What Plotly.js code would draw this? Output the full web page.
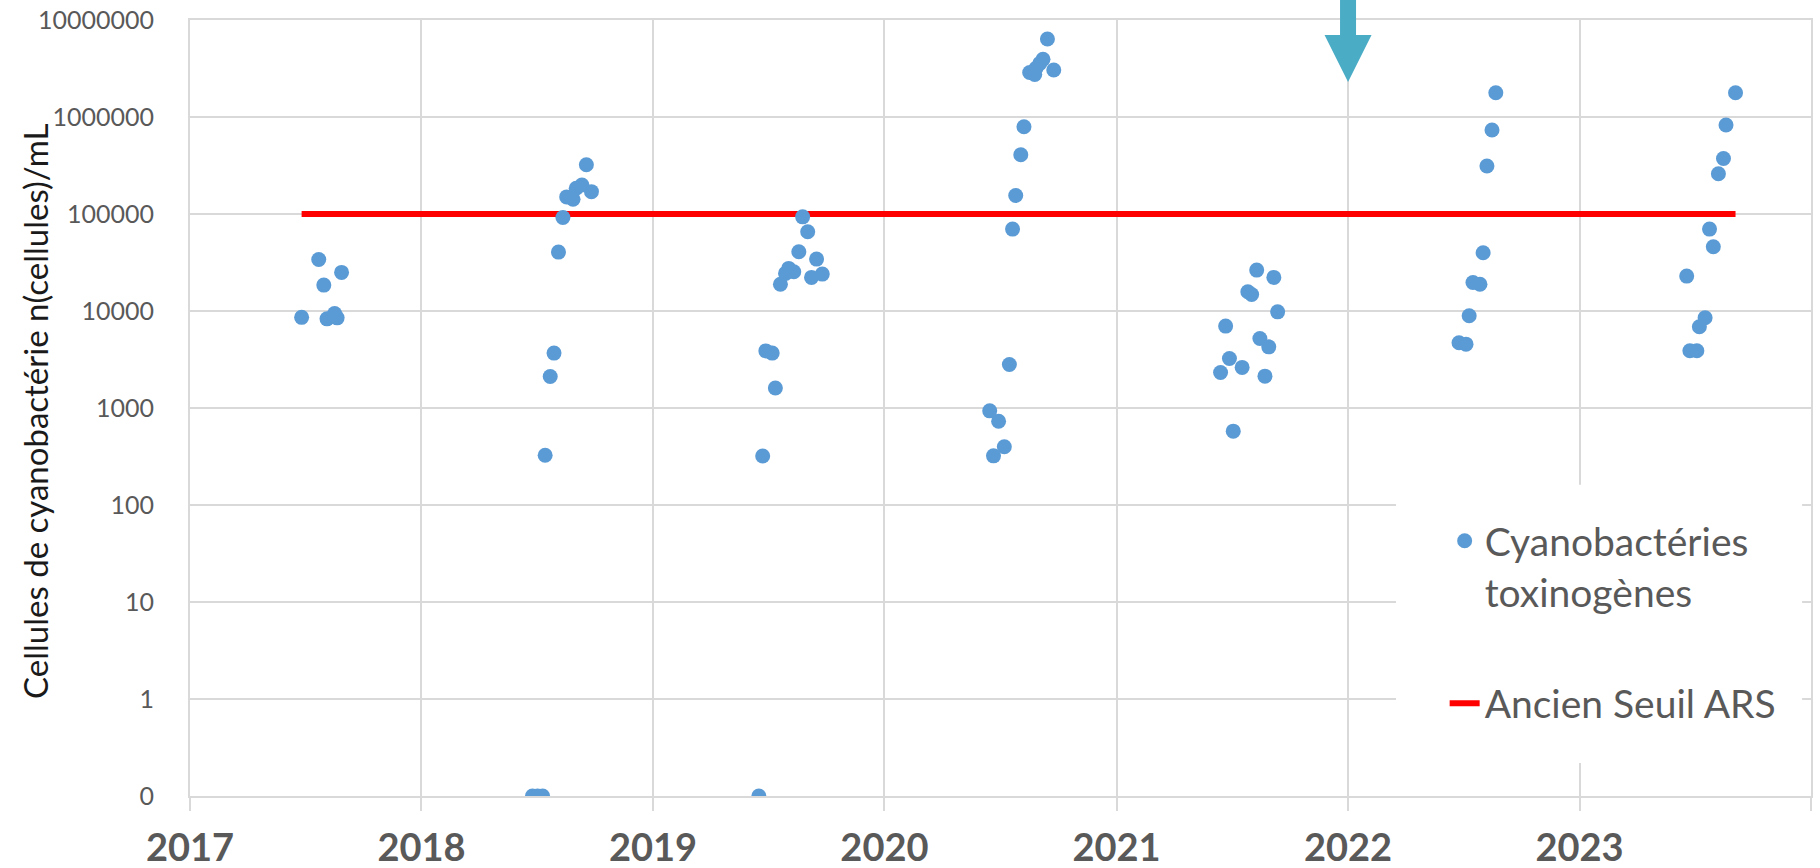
<!DOCTYPE html>
<html>
<head>
<meta charset="utf-8">
<script src="https://cdn.plot.ly/plotly-3.0.1.min.js"></script>
<style>
  html, body { margin: 0; padding: 0; background: #ffffff; }
  #chart { width: 1820px; height: 868px; }
</style>
</head>
<body>
<div id="chart"></div>
<script>
// Sampling dates (Cyanobactéries toxinogènes)
const sampleDates = [
  '2017-06-26','2017-07-23','2017-07-31','2017-08-05','2017-08-17','2017-08-21','2017-08-28',
  '2018-06-25','2018-07-03','2018-07-11','2018-07-15','2018-07-23','2018-07-29','2018-08-05','2018-08-12','2018-08-18','2018-08-28','2018-09-02','2018-09-11','2018-09-18','2018-09-26',
  '2019-06-17','2019-06-23','2019-06-28','2019-07-08','2019-07-13','2019-07-21','2019-07-29','2019-08-03','2019-08-11','2019-08-19','2019-08-25','2019-09-02','2019-09-08','2019-09-16','2019-09-25',
  '2020-06-15','2020-06-21','2020-06-29','2020-07-08','2020-07-16','2020-07-21','2020-07-26','2020-08-03','2020-08-08','2020-08-17','2020-08-25','2020-08-27','2020-09-02','2020-09-07','2020-09-14','2020-09-24',
  '2021-06-14','2021-06-22','2021-06-28','2021-07-04','2021-07-18','2021-07-27','2021-08-02','2021-08-10','2021-08-15','2021-08-23','2021-08-29','2021-09-06','2021-09-12',
  '2022-06-25','2022-07-06','2022-07-11','2022-07-17','2022-07-28','2022-08-02','2022-08-08','2022-08-16','2022-08-22',
  '2023-06-19','2023-06-24','2023-07-05','2023-07-09','2023-07-18','2023-07-25','2023-07-31','2023-08-08','2023-08-16','2023-08-20','2023-09-04'
];
// Cell counts, cellules/mL
const cellCounts = [
  8600, 34000, 18500, 8300, 9400, 8500, 25000,
  0, 0, 0, 326, 2110, 3680, 40500, 92000, 150000, 142000, 184000, 199000, 322000, 170000,
  0, 320, 3880, 3680, 1610, 18900, 24400, 27500, 25400, 40800, 93500, 65600, 22200, 34300, 24000,
  935, 321, 731, 398, 2810, 69900, 155000, 408000, 794000, 2880000, 2750000, 3180000, 3570000, 3930000, 6370000, 3050000,
  2320, 6990, 3240, 577, 2620, 15800, 14800, 26400, 5210, 2130, 4270, 22200, 9800,
  4700, 4550, 8930, 19700, 18900, 39800, 312000, 735000, 1780000,
  22900, 3890, 3890, 6870, 8510, 69900, 45900, 260000, 374000, 826000, 1780000
];
// Old ARS threshold
const seuilDates = ['2017-06-26', '2023-09-04'];
const seuilValues = [100000, 100000];

// Axis ticks
const yTickVals = [0.1, 1, 10, 100, 1000, 10000, 100000, 1000000, 10000000];
const yTickText = ['0', '1', '10', '100', '1000', '10000', '100000', '1000000', '10000000'];
const xTickVals = ['2017-01-01','2018-01-01','2019-01-01','2020-01-01','2021-01-01','2022-01-01','2023-01-01','2024-01-01'];
const xTickText = ['2017','2018','2019','2020','2021','2022','2023',''];

const seriesNames = ['Cyanobactéries<br>toxinogènes', 'Ancien Seuil ARS'];
const yTitle = 'Cellules de cyanobactérie n(cellules)/mL';

// Zero counts sit on the bottom of the log axis (labelled "0")
const AXIS_FLOOR = yTickVals[0];
const plottedCounts = cellCounts.map(v => v > 0 ? v : AXIS_FLOOR);

const FONT = 'Lato, "Open Sans", sans-serif';
const GRID = '#d9d9d9';

const traces = [
  {
    type: 'scatter', mode: 'lines',
    x: seuilDates, y: seuilValues,
    name: seriesNames[1], legendrank: 2, legendgroup: 'b',
    line: { color: '#ff0000', width: 6 },
    hoverinfo: 'skip'
  },
  {
    type: 'scatter', mode: 'markers',
    x: sampleDates, y: plottedCounts,
    name: seriesNames[0], legendrank: 1, legendgroup: 'a',
    marker: { color: '#5b9bd5', size: 15, line: { width: 0 } }
  }
];

const layout = {
  width: 1820, height: 868,
  margin: { l: 190, r: 9, t: 20, b: 72 },
  paper_bgcolor: '#ffffff', plot_bgcolor: '#ffffff',
  font: { family: FONT, color: '#595959' },
  showlegend: true,
  legend: {
    x: 0.774, y: 0.37, xanchor: 'left', yanchor: 'top',
    bgcolor: '#ffffff', borderwidth: 0,
    font: { family: FONT, size: 39, color: '#595959' },
    traceorder: 'grouped', tracegroupgap: 58, valign: 'top'
  },
  xaxis: {
    type: 'date',
    range: ['2017-01-01', '2024-01-01'],
    tickmode: 'array', tickvals: xTickVals, ticktext: xTickText,
    showgrid: true, gridcolor: GRID, gridwidth: 2,
    showline: true, linecolor: GRID, linewidth: 2, mirror: true,
    ticks: 'outside', ticklen: 13, tickwidth: 2, tickcolor: GRID,
    tickfont: { family: FONT, size: 38, color: '#595959', weight: 'bold' },
    ticklabelstandoff: 4,
    zeroline: false
  },
  yaxis: {
    type: 'log',
    range: [-1, 7],
    tickmode: 'array', tickvals: yTickVals, ticktext: yTickText,
    showgrid: true, gridcolor: GRID, gridwidth: 2,
    showline: true, linecolor: GRID, linewidth: 2, mirror: true,
    ticks: '',
    tickfont: { family: FONT, size: 25, color: '#595959' },
    ticklabelstandoff: 29,
    zeroline: false
  },
  annotations: [
    {
      text: yTitle, textangle: -90, showarrow: false,
      xref: 'paper', yref: 'paper', x: -0.0956, y: 0.495,
      xanchor: 'center', yanchor: 'middle',
      font: { family: FONT, size: 33, color: '#1a1a1a' }
    }
  ],
  shapes: [
    // white panel behind the legend (hides the grid as in the original)
    {
      type: 'rect', xref: 'paper', yref: 'paper',
      x0: 0.744, x1: 0.9945, y0: 0.0425, y1: 0.401,
      fillcolor: '#ffffff', line: { width: 0 }, layer: 'above'
    },
    // blue arrow pointing at 2022
    {
      type: 'path', xref: 'x', yref: 'paper',
      xsizemode: 'pixel', ysizemode: 'pixel',
      xanchor: '2022-01-01', yanchor: 1,
      path: 'M -8 22 L 8 22 L 8 -15 L 23.5 -15 L 0 -62 L -23.5 -15 L -8 -15 Z',
      fillcolor: '#4bacc6', line: { width: 0 }, layer: 'above'
    }
  ]
};

Plotly.newPlot('chart', traces, layout, { displayModeBar: false, staticPlot: true });
</script>
</body>
</html>
